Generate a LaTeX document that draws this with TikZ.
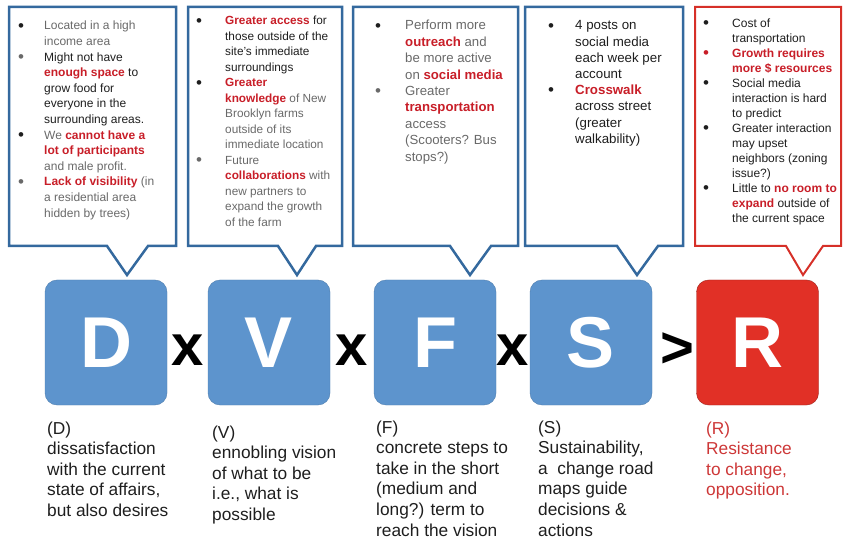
\documentclass[tikz,border=0pt]{standalone}
\usepackage{fontspec}
\setmainfont{Liberation Sans}
\usetikzlibrary{positioning}

\definecolor{boxblue}{RGB}{52,105,158}
\definecolor{sqblue}{RGB}{93,148,205}
\definecolor{sqred}{RGB}{225,48,38}
\definecolor{boxred}{RGB}{214,48,40}
\definecolor{hired}{RGB}{200,30,40}
\definecolor{txtgrey}{RGB}{105,105,105}
\definecolor{txtdark}{RGB}{30,30,30}
\definecolor{descred}{RGB}{205,55,55}

\newcommand{\hl}[1]{\textcolor{hired}{\textbf{#1}}}
\newcommand{\gy}[1]{\textcolor{txtgrey}{#1}}
\newcommand{\bt}[2][txtdark]{\makebox[#2pt][l]{\raisebox{-1.2pt}{\textcolor{#1}{\fontsize{17}{17}\selectfont\textbullet}}}}

\begin{document}
\begin{tikzpicture}[x=1pt, y=-1pt,
    callb/.style={draw=boxblue, line width=2.5pt},
    callr/.style={draw=boxred, line width=2pt},
    notes/.style={anchor=base west, inner sep=0pt, text=txtdark},
    sq/.style={minimum width=122pt, minimum height=125pt, rounded corners=12pt, text=white,
        font=\fontsize{72}{72}\selectfont\bfseries},
    op/.style={inner sep=0pt, font=\fontsize{58}{58}\selectfont\bfseries},
    desc/.style={anchor=base west, inner sep=0pt, text=txtdark, font=\fontsize{17.3}{20.6}\selectfont}]
    \useasboundingbox (0,0) rectangle (844,540);
    % Callouts
    \draw[callb] (9,7) -- (176,7) -- (176,246) -- (148,246) -- (127,275) -- (107,246) -- (9,246) -- cycle;
    \draw[callb] (188,7) -- (342,7) -- (342,246) -- (316,246) -- (297,275) -- (278,246) -- (188,246) -- cycle;
    \draw[callb] (353,7) -- (518,7) -- (518,246) -- (491,246) -- (470,275) -- (450,246) -- (353,246) -- cycle;
    \draw[callb] (525,7) -- (683,7) -- (683,246) -- (658,246) -- (637,275) -- (617,246) -- (525,246) -- cycle;
    \draw[callr] (695,7) -- (841,7) -- (841,246) -- (823,246) -- (803,275) -- (786,246) -- (695,246) -- cycle;
    % Callout texts
    \node[notes, font=\fontsize{12}{15.6}\selectfont] (nD) at (18,30) {\begin{tabular}[t]{@{}l@{}l@{}}
        \bt{26} & \gy{Located in a high}\\
        & \gy{income area}\\
        \bt[txtgrey]{26} & Might not have\\
        & \hl{enough space} to\\
        & grow food for\\
        & everyone in the\\
        & surrounding areas.\\
        \bt{26} & \gy{We} \hl{cannot have a}\\
        & \hl{lot of participants}\\
        & \gy{and male profit.}\\
        \bt[txtgrey]{26} & \hl{Lack of visibility} \gy{(in}\\
        & \gy{a residential area}\\
        & \gy{hidden by trees)}
    \end{tabular}};
    \node[notes, font=\fontsize{11.8}{15.5}\selectfont] (nV) at (196,25) {\begin{tabular}[t]{@{}l@{}l@{}}
        \bt{29} & \hl{Greater access} for\\
        & those outside of the\\
        & site’s immediate\\
        & surroundings\\
        \bt{29} & \hl{Greater}\\
        & \hl{knowledge} \gy{of New}\\
        & \gy{Brooklyn farms}\\
        & \gy{outside of its}\\
        & \gy{immediate location}\\
        \bt[txtgrey]{29} & \gy{Future}\\
        & \hl{collaborations} \gy{with}\\
        & \gy{new partners to}\\
        & \gy{expand the growth}\\
        & \gy{of the farm}
    \end{tabular}};
    \node[notes, font=\fontsize{13.2}{16.4}\selectfont] (nF) at (375,30) {\begin{tabular}[t]{@{}l@{}l@{}}
        \bt{30} & \gy{Perform more}\\
        & \hl{outreach} \gy{and}\\
        & \gy{be more active}\\
        & \gy{on} \hl{social media}\\
        \bt[txtgrey]{30} & \gy{Greater}\\
        & \hl{transportation}\\
        & \gy{access}\\
        & \gy{(Scooters? Bus}\\
        & \gy{stops?)}
    \end{tabular}};
    \node[notes, font=\fontsize{13.3}{16.2}\selectfont] (nS) at (548,30) {\begin{tabular}[t]{@{}l@{}l@{}}
        \bt{27} & 4 posts on\\
        & social media\\
        & each week per\\
        & account\\
        \bt{27} & \hl{Crosswalk}\\
        & across street\\
        & (greater\\
        & walkability)
    \end{tabular}};
    \node[notes, font=\fontsize{12}{15}\selectfont] (nR) at (703,27.5) {\begin{tabular}[t]{@{}l@{}l@{}}
        \bt{29} & Cost of\\
        & transportation\\
        \bt[hired]{29} & \hl{Growth requires}\\
        & \hl{more \$ resources}\\
        \bt{29} & Social media\\
        & interaction is hard\\
        & to predict\\
        \bt{29} & Greater interaction\\
        & may upset\\
        & neighbors (zoning\\
        & issue?)\\
        \bt{29} & Little to \hl{no room to}\\
        & \hl{expand} outside of\\
        & the current space
    \end{tabular}};
    % Letters
    \node[sq, fill=sqblue, draw=sqblue!85!black, thin] (D) at (106,342.5) {D};
    \node[sq, fill=sqblue, draw=sqblue!85!black, thin] (V) at (269,342.5) {V};
    \node[sq, fill=sqblue, draw=sqblue!85!black, thin] (F) at (435,342.5) {F};
    \node[sq, fill=sqblue, draw=sqblue!85!black, thin] (S) at (591,342.5) {S};
    \node[sq, fill=sqred, draw=sqred!70!black, thin] (R) at (757.5,342.5) {R};
    \node[op] (x1) at (188,350) {x};
    \node[op] (x2) at (352,350) {x};
    \node[op] (x3) at (513,350) {x};
    \node[op] (gt) at (677,350) {>};
    % Descriptions
    \node[desc] (dD) at (47,434) {\begin{tabular}[t]{@{}l@{}}(D)\\dissatisfaction\\with the current\\state of affairs,\\but also desires\end{tabular}};
    \node[desc] (dV) at (212,438) {\begin{tabular}[t]{@{}l@{}}(V)\\ennobling vision\\of what to be\\i.e., what is\\possible\end{tabular}};
    \node[desc] (dF) at (376,433) {\begin{tabular}[t]{@{}l@{}}(F)\\concrete steps to\\take in the short\\(medium and\\long?) term to\\reach the vision\end{tabular}};
    \node[desc] (dS) at (538,433) {\begin{tabular}[t]{@{}l@{}}(S)\\Sustainability,\\a\ \ change road\\maps guide\\decisions \&\\actions\end{tabular}};
    \node[desc, text=descred] (dR) at (706,434) {\begin{tabular}[t]{@{}l@{}}(R)\\Resistance\\to change,\\opposition.\end{tabular}};
\end{tikzpicture}
\end{document}
